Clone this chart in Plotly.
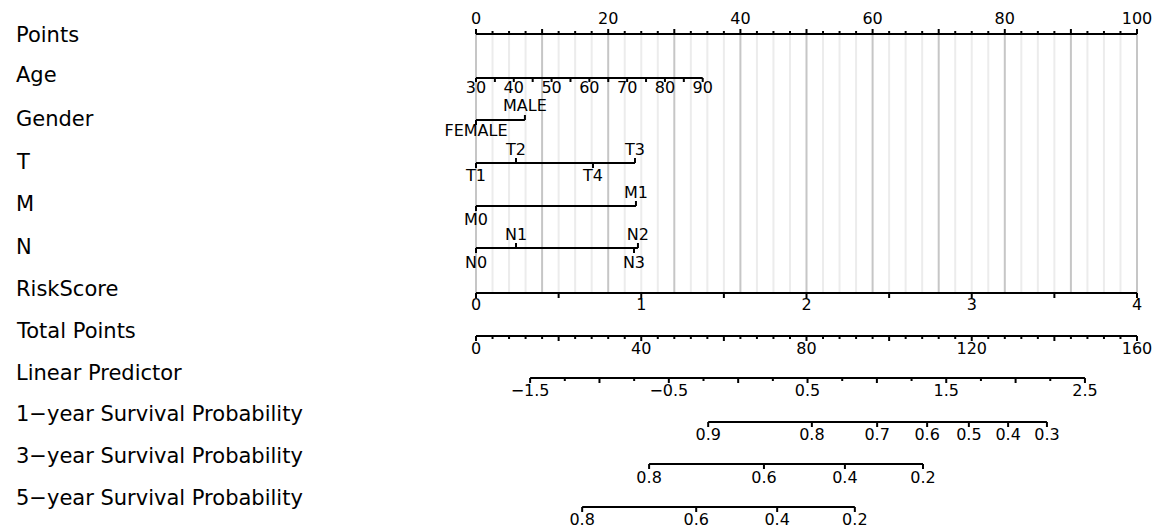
import numpy as np
import plotly.graph_objects as go

# ---------------- data ----------------
row_labels = ["Points", "Age", "Gender", "T", "M", "N", "RiskScore", "Total Points",
              "Linear Predictor", "1\u2212year Survival Probability",
              "3\u2212year Survival Probability", "5\u2212year Survival Probability"]

points_tick_values = [i * 2.5 for i in range(41)]
points_major_values = [0, 10, 20, 30, 40, 50, 60, 70, 80, 90, 100]
points_label_values = [0, 20, 40, 60, 80, 100]

age_tick_values = [30, 35, 40, 45, 50, 55, 60, 65, 70, 75, 80, 85, 90]
age_label_values = [30, 40, 50, 60, 70, 80, 90]
age_value_range = [30, 90]
age_points_range = [0, 34.3]

gender_levels = ["FEMALE", "MALE"]
gender_points = [0, 7.4]
gender_side = [-1, 1]          # -1 label below, 1 label above

t_levels = ["T1", "T2", "T4", "T3"]
t_points = [0, 6.05, 17.7, 24.05]
t_side = [-1, 1, -1, 1]

m_levels = ["M0", "M1"]
m_points = [0, 24.2]
m_side = [-1, 1]

n_levels = ["N0", "N1", "N3", "N2"]
n_points = [0, 6.05, 23.9, 24.5]
n_side = [-1, 1, -1, 1]

risk_tick_values = [0, 0.5, 1, 1.5, 2, 2.5, 3, 3.5, 4]
risk_label_values = [0, 1, 2, 3, 4]
risk_value_range = [0, 4]
risk_points_range = [0, 100]

total_points_max = 160
total_tick_values = list(range(0, 161, 4))
total_major_values = list(range(0, 161, 20))
total_label_values = [0, 40, 80, 120, 160]

lp_tick_values = [-1.5 + 0.25 * i for i in range(17)]
lp_major_values = [-1.5, -1.0, -0.5, 0.0, 0.5, 1.0, 1.5, 2.0, 2.5]
lp_label_values = [-1.5, -0.5, 0.5, 1.5, 2.5]
lp_value_range = [-1.5, 2.5]
lp_total_points_range = [13.1, 147.4]

surv1_probs = [0.9, 0.8, 0.7, 0.6, 0.5, 0.4, 0.3]
surv1_total_points = [56.2, 81.3, 97.1, 109.2, 119.3, 128.8, 138.2]
surv3_probs = [0.8, 0.6, 0.4, 0.2]
surv3_total_points = [41.9, 69.7, 89.3, 108.2]
surv5_probs = [0.8, 0.6, 0.4, 0.2]
surv5_total_points = [25.7, 53.3, 72.9, 91.7]

# ---------------- layout geometry (pixels) ----------------
W, H = 1166, 530
X0_PX, X100_PX = 476, 1137
PX_PER_PT = (X100_PX - X0_PX) / 100.0
row_line_y = [34, 78, 120, 163, 206, 248, 293, 336, 378, 422, 464, 507]
row_label_y = [35, 75, 119, 162, 204, 247, 289, 331, 373, 414, 456, 498]
FONT = "DejaVu Sans"
FS_ROW = 21
FS_TICK = 16


def lin(v, vr, pr):
    return pr[0] + (v - vr[0]) * (pr[1] - pr[0]) / (vr[1] - vr[0])


def tp2pt(tp):
    return tp * 100.0 / total_points_max


def fmt(v):
    s = ("%g" % v)
    return s.replace("-", "\u2212")


seg_x, seg_y = [], []
grid_major_x, grid_major_y = [], []
grid_minor_x, grid_minor_y = [], []
lab_x, lab_y, lab_t = [], [], []


def seg(x0, y0, x1, y1):
    seg_x.extend([x0, x1, None])
    seg_y.extend([y0, y1, None])


def axis(xs, y, tick_len):
    seg(min(xs), y, max(xs), y)
    for x, L in zip(xs, tick_len):
        seg(x, y, x, y + L)


def label(x, y, t):
    lab_x.append(x)
    lab_y.append(y)
    lab_t.append(t)


# Points
y = row_line_y[0]
axis(points_tick_values, y,
     [-5 if v in points_major_values else -3 for v in points_tick_values])
for v in points_label_values:
    label(v, 20, fmt(v))
for v in points_tick_values:
    if v in points_major_values:
        grid_major_x.extend([v, v, None]); grid_major_y.extend([y, row_line_y[6], None])
    else:
        grid_minor_x.extend([v, v, None]); grid_minor_y.extend([y, row_line_y[6], None])

# Age
y = row_line_y[1]
axis([lin(a, age_value_range, age_points_range) for a in age_tick_values], y,
     [4] * len(age_tick_values))
for a in age_label_values:
    label(lin(a, age_value_range, age_points_range), 89, fmt(a))

# categorical rows
cat_rows = [
    (gender_levels, gender_points, gender_side, row_line_y[2], 107, 132),
    (t_levels, t_points, t_side, row_line_y[3], 151, 177),
    (m_levels, m_points, m_side, row_line_y[4], 194, 221),
    (n_levels, n_points, n_side, row_line_y[5], 236, 264),
]
for levels, pts, side, y, y_above, y_below in cat_rows:
    axis(pts, y, [-5 if s > 0 else 5 for s in side])
    for lv, p, s in zip(levels, pts, side):
        label(p, y_above if s > 0 else y_below, lv)

# RiskScore
y = row_line_y[6]
axis([lin(r, risk_value_range, risk_points_range) for r in risk_tick_values], y,
     [5] * len(risk_tick_values))
for r in risk_label_values:
    label(lin(r, risk_value_range, risk_points_range), 306, fmt(r))

# Total points
y = row_line_y[7]
axis([tp2pt(t) for t in total_tick_values], y,
     [5 if t in total_major_values else 3 for t in total_tick_values])
for t in total_label_values:
    label(tp2pt(t), 350, fmt(t))

# Linear predictor
y = row_line_y[8]
axis([tp2pt(lin(v, lp_value_range, lp_total_points_range)) for v in lp_tick_values], y,
     [5 if any(abs(v - m) < 1e-9 for m in lp_major_values) else 3 for v in lp_tick_values])
for v in lp_label_values:
    label(tp2pt(lin(v, lp_value_range, lp_total_points_range)), 392, fmt(v))

# Survival rows
for probs, tps, y, ly in [(surv1_probs, surv1_total_points, row_line_y[9], 436),
                          (surv3_probs, surv3_total_points, row_line_y[10], 479),
                          (surv5_probs, surv5_total_points, row_line_y[11], 521)]:
    axis([tp2pt(t) for t in tps], y, [5] * len(tps))
    for p, t in zip(probs, tps):
        label(tp2pt(t), ly, fmt(p))

fig = go.Figure()
fig.add_trace(go.Scatter(x=grid_minor_x, y=grid_minor_y, mode="lines",
                         line=dict(color="#ececec", width=2), hoverinfo="skip"))
fig.add_trace(go.Scatter(x=grid_major_x, y=grid_major_y, mode="lines",
                         line=dict(color="#c6c6c6", width=2), hoverinfo="skip"))
fig.add_trace(go.Scatter(x=seg_x, y=seg_y, mode="lines",
                         line=dict(color="black", width=2), hoverinfo="skip"))
fig.add_trace(go.Scatter(x=lab_x, y=lab_y, text=lab_t, mode="text",
                         textposition="middle center",
                         textfont=dict(family=FONT, size=FS_TICK, color="black"),
                         hoverinfo="skip", cliponaxis=False))

x_left = -X0_PX / PX_PER_PT
x_right = (W - X0_PX) / PX_PER_PT
for name, ly in zip(row_labels, row_label_y):
    fig.add_annotation(x=(14 - X0_PX) / PX_PER_PT, y=ly, text=name, showarrow=False,
                       xanchor="left", yanchor="middle",
                       font=dict(family=FONT, size=FS_ROW, color="black"))

fig.update_layout(
    width=W, height=H, margin=dict(l=0, r=0, t=0, b=0),
    paper_bgcolor="white", plot_bgcolor="white", showlegend=False,
    xaxis=dict(range=[x_left, x_right], visible=False, fixedrange=True),
    yaxis=dict(range=[H, 0], visible=False, fixedrange=True),
)
fig.write_html("out.html")
